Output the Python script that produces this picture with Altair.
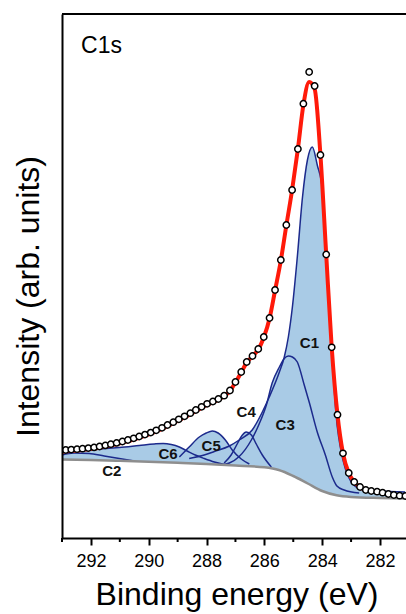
import altair as alt
import pandas as pd

FONT = "Liberation Sans, Arial, Helvetica, sans-serif"
FILL = "#a9cbe6"
NAVY = "#1c2a8c"

# Measured spectrum (open circles)
meas_E = [292.87, 292.68, 292.48, 292.29, 292.09, 291.89, 291.70, 291.50, 291.31, 291.11,
          290.91, 290.72, 290.52, 290.33, 290.13, 289.93, 289.74, 289.54, 289.35, 289.15,
          288.96, 288.76, 288.56, 288.37, 288.17, 287.98, 287.78, 287.59, 287.39, 287.19,
          287.00, 286.80, 286.61, 286.41, 286.21, 286.02, 285.82, 285.63, 285.43, 285.24,
          285.04, 284.84, 284.65, 284.45, 284.26, 284.06, 283.86, 283.67, 283.47, 283.28,
          283.08, 282.89, 282.69, 282.49, 282.30, 282.10, 281.91, 281.71, 281.52, 281.32, 281.12]
meas_I = [88.0, 88.4, 88.8, 89.3, 89.9, 90.6, 91.5, 92.6, 93.8, 95.1,
          96.5, 98.0, 99.7, 101.5, 103.4, 105.4, 107.7, 110.2, 113.0, 115.8,
          118.7, 121.7, 124.8, 128.0, 131.2, 134.2, 136.5, 139.0, 142.3, 147.5,
          156.0, 166.0, 176.0, 182.0, 189.0, 201.0, 220.0, 248.0, 278.0, 313.0,
          348.0, 389.0, 434.3, 466.0, 452.0, 383.0, 283.5, 190.7, 123.3, 84.7,
          65.0, 56.0, 51.0, 48.0, 47.0, 46.3, 45.3, 44.0, 43.0, 42.3, 42.0]

# Fitted envelope (red)
fit_E = [293.0] + meas_E
fit_I = [86.0, 86.8, 87.2, 87.6, 88.1, 88.7, 89.4, 90.3, 91.4, 92.6, 93.9,
         95.3, 96.8, 98.5, 100.3, 102.2, 104.3, 106.6, 109.1, 111.9, 114.8,
         117.7, 120.7, 123.8, 127.0, 130.2, 133.2, 135.7, 138.3, 141.8, 147.0,
         155.5, 165.5, 175.5, 181.8, 188.5, 200.5, 219.5, 247.5, 277.5, 312.5,
         348.0, 389.0, 433.0, 456.0, 449.0, 383.0, 283.5, 190.7, 123.3, 84.7,
         65.0, 56.0, 51.0, 48.0, 47.0, 46.3, 45.3, 44.0, 43.0, 42.3, 42.0]

# Shirley background (grey)
bg_E = [293.0, 292.0, 291.0, 290.0, 289.0, 288.0, 287.0, 286.0, 285.5, 285.0,
        284.5, 284.0, 283.5, 283.0, 282.0, 281.1]
bg_I = [78.5, 78.0, 77.2, 76.3, 75.2, 74.0, 72.5, 70.7, 68.0, 62.0,
        54.5, 47.0, 42.7, 41.0, 40.0, 39.5]

# Fitted components
c1_E = [288.60, 288.08, 287.73, 287.21, 286.87, 286.42, 286.07, 285.83, 285.48, 285.31,
        285.17, 285.03, 284.86, 284.68, 284.51, 284.34, 284.17, 283.99, 283.86, 283.69,
        283.52, 283.28, 283.07, 282.79, 282.37, 281.68, 281.13]
c1_I = [79.5, 83.0, 86.5, 92.0, 98.0, 108.0, 126.0, 141.0, 166.0, 181.0,
        201.0, 231.0, 281.0, 341.0, 378.0, 391.0, 373.0, 348.0, 285.0, 201.0,
        124.0, 78.0, 60.0, 50.5, 47.5, 46.5, 46.0]
c2_E = [293.0, 292.58, 292.06, 291.54, 291.02, 290.50]
c2_I = [83.0, 85.0, 84.5, 82.0, 79.5, 77.0]
c3_E = [287.49, 287.21, 286.87, 286.45, 286.18, 285.93, 285.73, 285.48, 285.31, 285.17,
        285.03, 284.86, 284.62, 284.44, 284.17, 283.89, 283.65, 283.49, 283.24, 282.72]
c3_I = [73.3, 75.0, 81.5, 98.0, 114.0, 133.0, 155.0, 171.0, 179.5, 182.0,
        181.0, 176.0, 153.0, 135.0, 106.0, 83.0, 61.0, 52.0, 48.0, 45.0]
c4_E = [287.39, 287.15, 286.94, 286.76, 286.63, 286.45, 286.28, 286.07, 285.76]
c4_I = [75.0, 83.0, 94.0, 103.0, 106.0, 103.0, 94.0, 83.0, 71.0]
c5_E = [288.94, 288.60, 288.25, 288.01, 287.80, 287.60, 287.35, 287.11, 286.80, 286.52]
c5_I = [81.0, 91.0, 101.0, 105.0, 107.0, 105.0, 98.0, 88.0, 79.0, 74.0]
c6_E = [293.0, 292.40, 291.71, 291.02, 290.33, 289.81, 289.50, 289.22, 288.94, 288.67,
        288.39, 288.08, 287.73, 287.39]
c6_I = [87.5, 88.0, 89.0, 90.5, 92.5, 94.0, 94.5, 93.5, 91.0, 87.0,
        83.0, 79.5, 76.0, 73.5]

# Peak labels
lab_text = ["C1", "C2", "C3", "C4", "C5", "C6"]
lab_E = [284.44, 291.28, 285.28, 286.63, 287.84, 289.33]
lab_I = [195.0, 67.0, 113.0, 126.0, 92.0, 84.0]

major_ticks = [282, 284, 286, 288, 290, 292]
minor_ticks = [283, 285, 287, 289, 291, 293]

W, H = 344, 524

comps = {"C1": (c1_E, c1_I), "C2": (c2_E, c2_I), "C3": (c3_E, c3_I),
         "C4": (c4_E, c4_I), "C5": (c5_E, c5_I), "C6": (c6_E, c6_I)}
comp_df = pd.DataFrame(
    [{"comp": k, "E": e, "I": i} for k, (es, is_) in comps.items() for e, i in zip(es, is_)]
)
meas_df = pd.DataFrame({"E": meas_E, "I": meas_I})
fit_df = pd.DataFrame({"E": fit_E, "I": fit_I})
bg_df = pd.DataFrame({"E": bg_E, "I": bg_I})
lab_df = pd.DataFrame({"t": lab_text, "E": lab_E, "I": lab_I})
panel_df = pd.DataFrame({"t": ["C1s"], "E": [292.34], "I": [484.7]})
minor_df = pd.DataFrame({"E": minor_ticks})

xs = alt.Scale(domain=[281.1, 293], reverse=True, nice=False, zero=False)
ys = alt.Scale(domain=[0, H], nice=False, zero=False)

x_axis = alt.Axis(
    values=major_ticks, format="d", grid=False, tickSize=7, tickWidth=2,
    tickColor="black", domainColor="black", domainWidth=2,
    labelFont=FONT, labelFontSize=18, labelColor="black", labelPadding=21.5,
    labelBaseline="alphabetic", labelFlush=False,
    title="Binding energy (eV)", titleFont=FONT, titleFontSize=32,
    titleFontWeight="normal", titleColor="black", titleX=174.5, titleY=66,
    titleBaseline="alphabetic", titleAlign="center", zindex=1,
)
y_axis = alt.Axis(
    ticks=False, labels=False, grid=False, domainColor="black", domainWidth=2,
    title="Intensity (arb. units)", titleFont=FONT, titleFontSize=32,
    titleFontWeight="normal", titleColor="black", titleAngle=270,
    titleX=-24, titleY=282, titleBaseline="alphabetic", titleAlign="center", zindex=1,
)


def X():
    return alt.X("E:Q", scale=xs, axis=x_axis, title="Binding energy (eV)")


def Y():
    return alt.Y("I:Q", scale=ys, axis=y_axis, stack=None, title="Intensity (arb. units)")


# component fills, reaching down to the axis; the region under the background is masked
fills = alt.Chart(comp_df).mark_area(color=FILL, interpolate="monotone", clip=True).encode(
    x=X(), y=Y(), detail="comp:N"
)
mask = alt.Chart(bg_df).mark_area(color="white", interpolate="monotone", clip=True).encode(
    x=X(), y=Y()
)
outlines = alt.Chart(comp_df).mark_line(
    color=NAVY, strokeWidth=1.5, interpolate="monotone", clip=True
).encode(x=X(), y=Y(), detail="comp:N")
bg_line = alt.Chart(bg_df).mark_line(
    color="#8e8e8e", strokeWidth=2.5, interpolate="monotone", clip=True
).encode(x=X(), y=Y())
fit_line = alt.Chart(fit_df).mark_line(
    color="#ff1a0a", strokeWidth=4, interpolate="monotone", clip=True
).encode(x=X(), y=Y())
points = alt.Chart(meas_df).mark_point(
    shape="circle", filled=True, fill="white", stroke="black", strokeWidth=1.5,
    size=40, opacity=1, clip=True
).encode(x=X(), y=Y())
labels = alt.Chart(lab_df).mark_text(
    font=FONT, fontSize=15, fontWeight="bold", color="#111111", baseline="middle"
).encode(x=X(), y=Y(), text="t:N")
panel = alt.Chart(panel_df).mark_text(
    font=FONT, fontSize=23, color="black", align="left", baseline="alphabetic"
).encode(x=X(), y=Y(), text="t:N")
minor = alt.Chart(minor_df).mark_rule(color="black", strokeWidth=2).encode(
    x=X(), y=alt.value(H), y2=alt.value(H + 4)
)
top = alt.Chart(pd.DataFrame({"v": [0]})).mark_rule(color="black", strokeWidth=2).encode(
    x=alt.value(0), x2=alt.value(W), y=alt.value(0)
)

chart = alt.layer(
    fills, mask, outlines, bg_line, fit_line, points, labels, panel, minor, top
).properties(
    width=W, height=H,
    autosize=alt.AutoSizeParams(type="none"),
    padding={"left": 62, "top": 14, "right": 0, "bottom": 76},
).configure_view(stroke=None).configure(background="white")

chart.save("out.html", embed_options={"renderer": "svg", "actions": False})
